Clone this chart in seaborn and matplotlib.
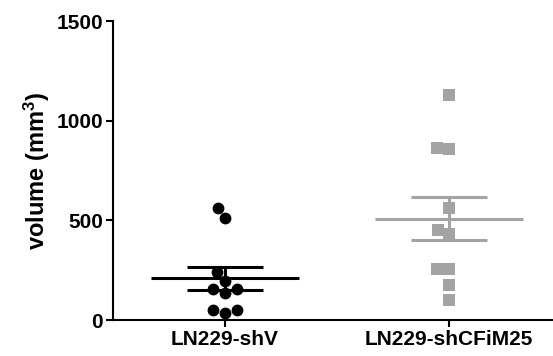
import numpy as np
import pandas as pd
import matplotlib
matplotlib.use("Agg")
import matplotlib.pyplot as plt
import seaborn as sns

categories = ["LN229-shV", "LN229-shCFiM25"]
shV_values = [561, 511, 240, 195, 155, 135, 155, 50, 35, 50]
shCFiM25_values = [1127, 857, 862, 561, 451, 431, 255, 255, 175, 100]
y_ticks = [0, 500, 1000, 1500]

sns.set_style("ticks")
plt.rcParams['font.family'] = ['Liberation Sans', 'DejaVu Sans']
plt.rcParams['font.weight'] = 'bold'
plt.rcParams['mathtext.fontset'] = 'custom'
plt.rcParams['mathtext.rm'] = 'Liberation Sans:bold'
plt.rcParams['mathtext.it'] = 'Liberation Sans:bold'
plt.rcParams['mathtext.default'] = 'rm'
for k in ['text.color', 'axes.labelcolor', 'xtick.color', 'ytick.color', 'axes.edgecolor']:
    plt.rcParams[k] = 'black'

df = pd.DataFrame({
    "group": [categories[0]] * len(shV_values) + [categories[1]] * len(shCFiM25_values),
    "volume": shV_values + shCFiM25_values,
})

colors = {categories[0]: "#000000", categories[1]: "#a3a3a3"}
markers = {categories[0]: "o", categories[1]: "s"}

fig = plt.figure(figsize=(5.53, 3.56), dpi=100)
ax = fig.add_axes([0.204, 0.101, 0.795, 0.840])

for cat in categories:
    sub = df[df["group"] == cat]
    sns.swarmplot(data=sub, x="group", y="volume", order=categories,
                  color=colors[cat], marker=markers[cat], size=8.5,
                  linewidth=0, ax=ax)

for i, cat in enumerate(categories):
    vals = np.array(df.loc[df["group"] == cat, "volume"], dtype=float)
    m = vals.mean()
    se = vals.std(ddof=1) / np.sqrt(len(vals))
    c = colors[cat]
    ax.hlines(m, i - 0.33, i + 0.33, color=c, lw=2.2, zorder=3)
    ax.hlines([m - se, m + se], i - 0.17, i + 0.17, color=c, lw=2.2, zorder=3)
    ax.vlines(i, m - se, m + se, color=c, lw=2.2, zorder=3)

ax.set_xlim(-0.5, 1.46)
ax.set_ylim(0, 1500)
ax.set_yticks(y_ticks)
ax.set_xlabel("")
ax.set_ylabel("volume (mm$^{3}$)", fontsize=17, fontweight='bold', labelpad=3)
ax.tick_params(axis='both', labelsize=15, width=1.5, length=5, pad=2)
for lbl in ax.get_xticklabels() + ax.get_yticklabels():
    lbl.set_fontweight('bold')
sns.despine(ax=ax)
ax.spines['left'].set_linewidth(1.5)
ax.spines['bottom'].set_linewidth(1.5)

fig.savefig("out.png", dpi=100)
